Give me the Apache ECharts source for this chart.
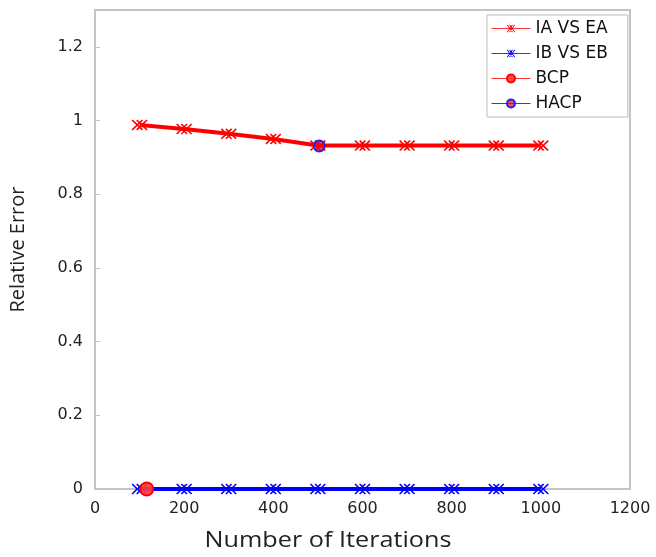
<!DOCTYPE html>
<html><head><meta charset="utf-8">
<script src="https://cdn.jsdelivr.net/npm/echarts@6/dist/echarts.min.js"></script>
<style>html,body{margin:0;padding:0;background:#fff}#c{width:656px;height:557px}</style>
</head><body><div id="c"></div>
<script>
const iterations = [100, 200, 300, 400, 500, 600, 700, 800, 900, 1000];
const iaVsEa = [0.988, 0.977, 0.964, 0.950, 0.932, 0.932, 0.932, 0.932, 0.932, 0.932];
const ibVsEb = [0, 0, 0, 0, 0, 0, 0, 0, 0, 0];
const bcpPoint = [116, 0];
const hacpPoint = [503, 0.931];
const yTicks = [0, 0.2, 0.4, 0.6, 0.8, 1, 1.2];
const seriesNames = ['IA VS EA', 'IB VS EB', 'BCP', 'HACP'];
const seriesColors = ['#ff0000', '#0000ff', '#ff0000', '#0000ff'];
const xTitle = 'Number of Iterations';
const yTitle = 'Relative Error';

const doubleCross = 'path://M0,1L1,0L5,4L9,0L10,1L6,5L10,9L9,10L5,6L1,10L0,9L4,5Z M4,1L5,0L9,4L13,0L14,1L10,5L14,9L13,10L9,6L5,10L4,9L8,5Z';

const chart = echarts.init(document.getElementById('c'));
const font = 'DejaVu Sans';
const axisCommon = {
  axisLine: {show: true, onZero: false, lineStyle: {color: '#c4c4c4', width: 2}},
  axisTick: {show: true, inside: true, length: 5, lineStyle: {color: '#c4c4c4'}},
  splitLine: {show: false}
};
chart.setOption({
  animation: false,
  backgroundColor: '#fff',
  grid: {left: 91, right: 26, top: 10, bottom: 68, show: true, borderColor: '#c4c4c4', borderWidth: 2},
  legend: {
    orient: 'vertical', left: 487, top: 15,
    backgroundColor: '#fff', borderColor: '#bdbdbd', borderWidth: 1,
    padding: [5, 20, 5, 4], itemGap: 8, itemWidth: 39, itemHeight: 10,
    textStyle: {fontFamily: font, fontSize: 17, color: '#111'},
    data: seriesNames.map((n, i) => ({name: n, lineStyle: {width: 1, color: seriesColors[i], opacity: 0.8}}))
  },
  graphic: [{
    type: 'text', left: 'center', top: 531, scaleX: 1.2, originX: 0, originY: 0,
    style: {text: xTitle, fontFamily: 'Open Sans', fontSize: 21, fill: '#222'}
  }],
  xAxis: {
    type: 'value', min: 0, max: 1200, interval: 200,
    ...axisCommon,
    axisLabel: {color: '#222', fontFamily: font, fontSize: 16, margin: 12, formatter: v => String(v)}
  },
  yAxis: {
    type: 'value', min: 0, max: 1.3, interval: 0.2,
    name: yTitle, nameLocation: 'middle', nameGap: 67,
    nameTextStyle: {fontFamily: 'Open Sans', fontSize: 20, color: '#222'},
    ...axisCommon,
    axisLabel: {color: '#222', fontFamily: font, fontSize: 16, margin: 12,
      formatter: v => (yTicks.some(t => Math.abs(t - v) < 1e-9) ? String(Math.round(v * 10) / 10) : '')}
  },
  series: [{
    name: seriesNames[0], type: 'line',
    data: iterations.map((x, i) => [x, iaVsEa[i]]),
    lineStyle: {color: seriesColors[0], width: 4},
    itemStyle: {color: seriesColors[0]},
    symbol: doubleCross, symbolSize: [16, 11], showSymbol: true
  }, {
    name: seriesNames[1], type: 'line',
    data: iterations.map((x, i) => [x, ibVsEb[i]]),
    lineStyle: {color: seriesColors[1], width: 4},
    itemStyle: {color: seriesColors[1]},
    symbol: doubleCross, symbolSize: [16, 11], showSymbol: true
  }, {
    name: seriesNames[2], type: 'line', data: [bcpPoint],
    symbol: 'circle', symbolSize: 13,
    lineStyle: {color: seriesColors[2], width: 1},
    itemStyle: {color: 'rgba(255,60,60,0.9)', borderColor: '#ff0000', borderWidth: 2}
  }, {
    name: seriesNames[3], type: 'line', data: [hacpPoint],
    symbol: 'circle', symbolSize: 11,
    lineStyle: {color: seriesColors[3], width: 1},
    itemStyle: {color: 'rgba(255,0,0,0.7)', borderColor: '#2020ff', borderWidth: 2}
  }]
});
</script></body></html>
